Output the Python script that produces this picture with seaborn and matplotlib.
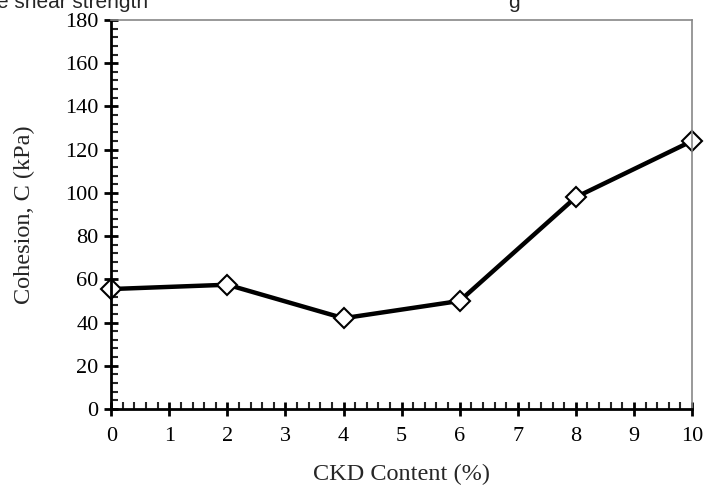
import seaborn as sns
import matplotlib.pyplot as plt
import pandas as pd
from matplotlib.ticker import MultipleLocator

ckd = [0, 2, 4, 6, 8, 10]
cohesion = [55.5, 57.5, 42, 50, 98, 124]

df = pd.DataFrame({'CKD': ckd, 'C': cohesion})

sns.set_style('white')
plt.rcParams['font.family'] = ['Liberation Serif', 'DejaVu Serif']

fig = plt.figure(figsize=(7.04, 4.90), dpi=100)
ax = fig.add_axes([0.158, 0.1653, 0.825, 0.794])

sns.lineplot(data=df, x='CKD', y='C', ax=ax, color='black', linewidth=3.2,
             marker='D', markersize=10, markerfacecolor='white',
             markeredgecolor='black', markeredgewidth=1.5, clip_on=False)

ax.set_xlim(0, 10)
ax.set_ylim(0, 180)
ax.xaxis.set_major_locator(MultipleLocator(1))
ax.xaxis.set_minor_locator(MultipleLocator(0.2))
ax.yaxis.set_major_locator(MultipleLocator(20))
ax.yaxis.set_minor_locator(MultipleLocator(4))
ax.tick_params(which='major', direction='inout', length=10, width=2,
               labelsize=16, colors='black', pad=4, bottom=True, left=True)
ax.tick_params(axis='x', which='major', pad=8)
ax.tick_params(which='minor', direction='in', length=5, width=1.5,
               bottom=True, left=True)

for s in ['left', 'bottom']:
    ax.spines[s].set_color('black')
    ax.spines[s].set_linewidth(2)
for s in ['top', 'right']:
    ax.spines[s].set_color('#888888')
    ax.spines[s].set_linewidth(1.2)

ax.set_xlabel('CKD Content (%)', fontsize=17.5)
ax.set_ylabel('Cohesion, C (kPa)', fontsize=17.5)
ax.xaxis.set_label_coords(0.5, -0.14)
ax.yaxis.set_label_coords(-0.132, 0.5)

# clipped caption text from the page above the chart
fig.text(-0.004, 0.984, 'e shear strength', fontsize=15, family=['Liberation Sans'],
         va='baseline', ha='left')
fig.text(0.722, 0.984, 'g', fontsize=15, family=['Liberation Sans'],
         va='baseline', ha='left')

fig.savefig('out.png', dpi=100)
